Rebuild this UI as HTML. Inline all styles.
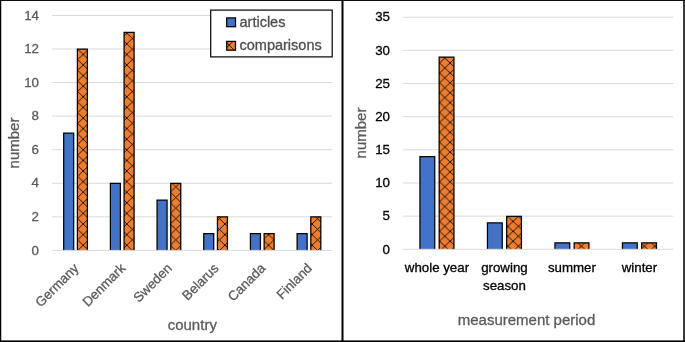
<!DOCTYPE html>
<html><head><meta charset="utf-8"><title>chart</title>
<style>
html,body{margin:0;padding:0;background:#fff}
svg{display:block;will-change:transform;opacity:0.9999}
text{font-family:"Liberation Sans",sans-serif;paint-order:stroke;stroke-width:0.3px}
</style></head><body>
<svg width="685" height="342" viewBox="0 0 685 342">
<defs>
<pattern id="hl" width="10.9" height="10.6" patternUnits="userSpaceOnUse" x="83.2" y="149.8"><rect width="10.9" height="10.6" fill="#ed7d31"/><path d="M0 0L10.9 10.6M10.9 0L0 10.6" stroke="#000" stroke-width="0.85" fill="none"/></pattern>
<pattern id="hr" width="10.5" height="9.9" patternUnits="userSpaceOnUse" x="450.1" y="152.1"><rect width="10.5" height="9.9" fill="#ed7d31"/><path d="M0 0L10.5 9.9M10.5 0L0 9.9" stroke="#000" stroke-width="0.85" fill="none"/></pattern>
<pattern id="hs" width="10.4" height="10.4" patternUnits="userSpaceOnUse" x="229.2" y="45.2"><rect width="10.4" height="10.4" fill="#ed7d31"/><path d="M0 0L10.4 10.4M10.4 0L0 10.4" stroke="#000" stroke-width="0.85" fill="none"/></pattern>
</defs>
<rect width="685" height="342" fill="#fff"/>
<line x1="52.2" x2="332.3" y1="216.83" y2="216.83" stroke="#d9d9d9" stroke-width="1"/>
<text x="39" y="221.03" font-size="13.3" text-anchor="end" fill="#595959" stroke="#595959">2</text>
<line x1="52.2" x2="332.3" y1="183.26" y2="183.26" stroke="#d9d9d9" stroke-width="1"/>
<text x="39" y="187.46" font-size="13.3" text-anchor="end" fill="#595959" stroke="#595959">4</text>
<line x1="52.2" x2="332.3" y1="149.68" y2="149.68" stroke="#d9d9d9" stroke-width="1"/>
<text x="39" y="153.88" font-size="13.3" text-anchor="end" fill="#595959" stroke="#595959">6</text>
<line x1="52.2" x2="332.3" y1="116.11" y2="116.11" stroke="#d9d9d9" stroke-width="1"/>
<text x="39" y="120.31" font-size="13.3" text-anchor="end" fill="#595959" stroke="#595959">8</text>
<line x1="52.2" x2="332.3" y1="82.54" y2="82.54" stroke="#d9d9d9" stroke-width="1"/>
<text x="39" y="86.74" font-size="13.3" text-anchor="end" fill="#595959" stroke="#595959">10</text>
<line x1="52.2" x2="332.3" y1="48.97" y2="48.97" stroke="#d9d9d9" stroke-width="1"/>
<text x="39" y="53.17" font-size="13.3" text-anchor="end" fill="#595959" stroke="#595959">12</text>
<line x1="52.2" x2="332.3" y1="15.40" y2="15.40" stroke="#d9d9d9" stroke-width="1"/>
<text x="39" y="19.60" font-size="13.3" text-anchor="end" fill="#595959" stroke="#595959">14</text>
<path d="M63.69 250.40V133.00H73.69V250.40" fill="#4472c4" stroke="#000" stroke-width="1.25"/>
<path d="M77.39 250.40V49.07H87.39V250.40" fill="url(#hl)" stroke="#000" stroke-width="1.25"/>
<path d="M110.38 250.40V183.36H120.38V250.40" fill="#4472c4" stroke="#000" stroke-width="1.25"/>
<path d="M124.08 250.40V32.28H134.08V250.40" fill="url(#hl)" stroke="#000" stroke-width="1.25"/>
<path d="M157.06 250.40V200.14H167.06V250.40" fill="#4472c4" stroke="#000" stroke-width="1.25"/>
<path d="M170.76 250.40V183.36H180.76V250.40" fill="url(#hl)" stroke="#000" stroke-width="1.25"/>
<path d="M203.74 250.40V233.71H213.74V250.40" fill="#4472c4" stroke="#000" stroke-width="1.25"/>
<path d="M217.44 250.40V216.93H227.44V250.40" fill="url(#hl)" stroke="#000" stroke-width="1.25"/>
<path d="M250.43 250.40V233.71H260.43V250.40" fill="#4472c4" stroke="#000" stroke-width="1.25"/>
<path d="M264.13 250.40V233.71H274.12V250.40" fill="url(#hl)" stroke="#000" stroke-width="1.25"/>
<path d="M297.11 250.40V233.71H307.11V250.40" fill="#4472c4" stroke="#000" stroke-width="1.25"/>
<path d="M310.81 250.40V216.93H320.81V250.40" fill="url(#hl)" stroke="#000" stroke-width="1.25"/>
<line x1="403.2" x2="673.2" y1="216.15" y2="216.15" stroke="#d9d9d9" stroke-width="1"/>
<text x="390" y="220.34" font-size="13.3" text-anchor="end" fill="#000" stroke="#000">5</text>
<line x1="403.2" x2="673.2" y1="182.99" y2="182.99" stroke="#d9d9d9" stroke-width="1"/>
<text x="390" y="187.19" font-size="13.3" text-anchor="end" fill="#000" stroke="#000">10</text>
<line x1="403.2" x2="673.2" y1="149.84" y2="149.84" stroke="#d9d9d9" stroke-width="1"/>
<text x="390" y="154.03" font-size="13.3" text-anchor="end" fill="#000" stroke="#000">15</text>
<line x1="403.2" x2="673.2" y1="116.68" y2="116.68" stroke="#d9d9d9" stroke-width="1"/>
<text x="390" y="120.88" font-size="13.3" text-anchor="end" fill="#000" stroke="#000">20</text>
<line x1="403.2" x2="673.2" y1="83.53" y2="83.53" stroke="#d9d9d9" stroke-width="1"/>
<text x="390" y="87.73" font-size="13.3" text-anchor="end" fill="#000" stroke="#000">25</text>
<line x1="403.2" x2="673.2" y1="50.37" y2="50.37" stroke="#d9d9d9" stroke-width="1"/>
<text x="390" y="54.57" font-size="13.3" text-anchor="end" fill="#000" stroke="#000">30</text>
<line x1="403.2" x2="673.2" y1="17.22" y2="17.22" stroke="#d9d9d9" stroke-width="1"/>
<text x="390" y="21.42" font-size="13.3" text-anchor="end" fill="#000" stroke="#000">35</text>
<path d="M419.95 249.30V156.57H434.75V249.30" fill="#4472c4" stroke="#000" stroke-width="1.25"/>
<path d="M439.15 249.30V57.10H453.95V249.30" fill="url(#hr)" stroke="#000" stroke-width="1.25"/>
<path d="M487.45 249.30V222.88H502.25V249.30" fill="#4472c4" stroke="#000" stroke-width="1.25"/>
<path d="M506.65 249.30V216.25H521.45V249.30" fill="url(#hr)" stroke="#000" stroke-width="1.25"/>
<path d="M554.95 249.30V242.77H569.75V249.30" fill="#4472c4" stroke="#000" stroke-width="1.25"/>
<path d="M574.15 249.30V242.77H588.95V249.30" fill="url(#hr)" stroke="#000" stroke-width="1.25"/>
<path d="M622.45 249.30V242.77H637.25V249.30" fill="#4472c4" stroke="#000" stroke-width="1.25"/>
<path d="M641.65 249.30V242.77H656.45V249.30" fill="url(#hr)" stroke="#000" stroke-width="1.25"/>
<line x1="52.2" x2="332.3" y1="250.40" y2="250.40" stroke="#d9d9d9" stroke-width="1"/>
<text x="39" y="254.60" font-size="13.3" text-anchor="end" fill="#595959" stroke="#595959">0</text>
<line x1="403.2" x2="673.2" y1="249.30" y2="249.30" stroke="#d9d9d9" stroke-width="1"/>
<text x="390" y="253.50" font-size="13.3" text-anchor="end" fill="#000" stroke="#000">0</text>
<text transform="translate(79.44,269.10) rotate(-45)" font-size="13.3" text-anchor="end" fill="#595959" stroke="#595959">Germany</text>
<text transform="translate(126.13,269.10) rotate(-45)" font-size="13.3" text-anchor="end" fill="#595959" stroke="#595959">Denmark</text>
<text transform="translate(172.81,269.10) rotate(-45)" font-size="13.3" text-anchor="end" fill="#595959" stroke="#595959">Sweden</text>
<text transform="translate(219.49,269.10) rotate(-45)" font-size="13.3" text-anchor="end" fill="#595959" stroke="#595959">Belarus</text>
<text transform="translate(266.18,269.10) rotate(-45)" font-size="13.3" text-anchor="end" fill="#595959" stroke="#595959">Canada</text>
<text transform="translate(312.86,269.10) rotate(-45)" font-size="13.3" text-anchor="end" fill="#595959" stroke="#595959">Finland</text>
<text x="192.3" y="329.5" font-size="15" text-anchor="middle" fill="#595959" stroke="#595959">country</text>
<text transform="translate(18.8,143) rotate(-90)" font-size="15" text-anchor="middle" fill="#595959" stroke="#595959">number</text>
<rect x="210.7" y="10.1" width="121.5" height="46.8" fill="#fff" stroke="#000" stroke-width="1.2"/>
<rect x="226.7" y="17.9" width="8.8" height="8.8" fill="#4472c4" stroke="#000" stroke-width="1.25"/>
<rect x="226.7" y="41.4" width="8.8" height="8.8" fill="url(#hs)" stroke="#000" stroke-width="1.25"/>
<text x="239.5" y="26.8" font-size="14.5" fill="#4d4d4d" stroke="#4d4d4d">articles</text>
<text x="239.5" y="50.2" font-size="14.5" fill="#4d4d4d" stroke="#4d4d4d">comparisons</text>
<text x="436.95" y="272.30" font-size="13.3" text-anchor="middle" fill="#000" stroke="#000">whole year</text>
<text x="504.45" y="272.30" font-size="13.3" text-anchor="middle" fill="#000" stroke="#000">growing</text>
<text x="504.45" y="290.30" font-size="13.3" text-anchor="middle" fill="#000" stroke="#000">season</text>
<text x="571.95" y="272.30" font-size="13.3" text-anchor="middle" fill="#000" stroke="#000">summer</text>
<text x="639.45" y="272.30" font-size="13.3" text-anchor="middle" fill="#000" stroke="#000">winter</text>
<text x="526.5" y="325" font-size="15" text-anchor="middle" fill="#595959" stroke="#595959">measurement period</text>
<text transform="translate(366.3,133) rotate(-90)" font-size="15" text-anchor="middle" fill="#595959" stroke="#595959">number</text>
<rect x="683" y="0" width="2" height="342" fill="#3a3a3a"/>
<rect x="0" y="0" width="685" height="0.95" fill="#000"/>
<rect x="0" y="340.4" width="685" height="1.6" fill="#000"/>
<rect x="0" y="0" width="1.25" height="342" fill="#000"/>
<rect x="341.5" y="0" width="2.0" height="342" fill="#000"/>
</svg>
</body></html>
